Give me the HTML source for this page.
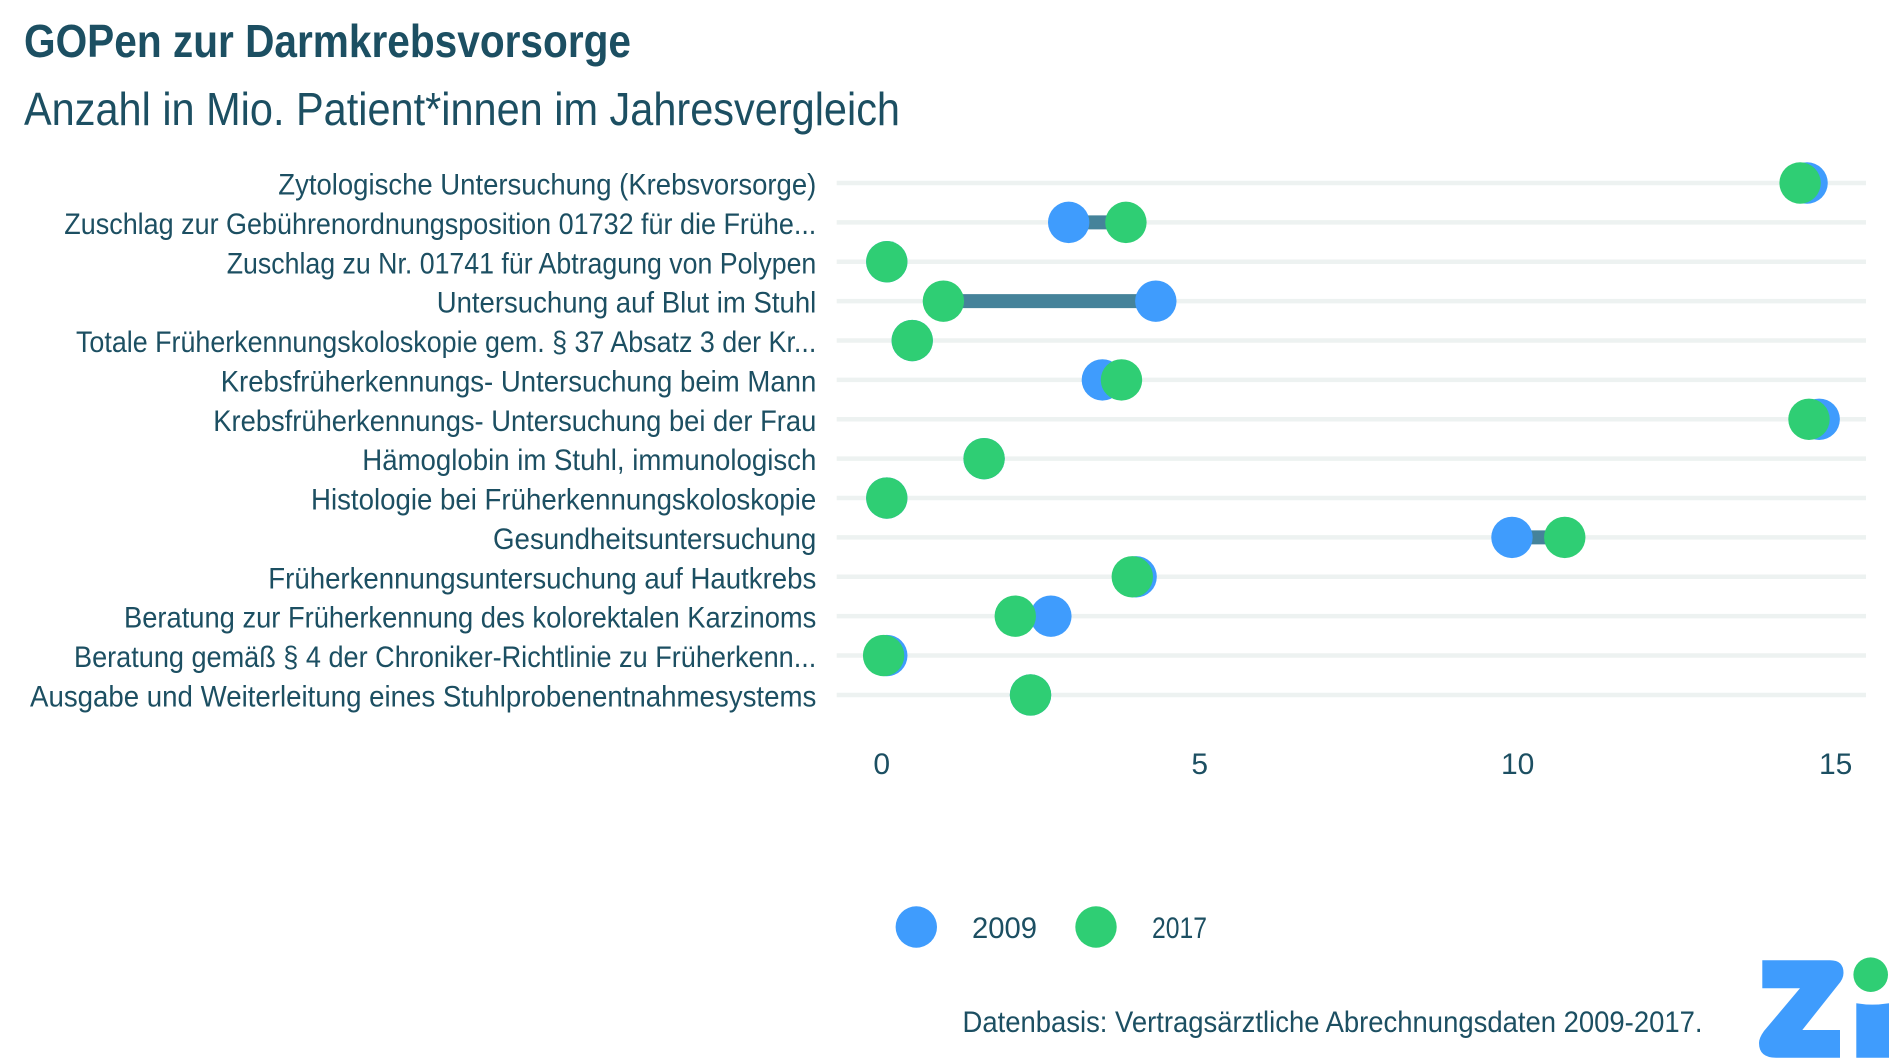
<!DOCTYPE html>
<html lang="de">
<head>
<meta charset="utf-8">
<title>GOPen zur Darmkrebsvorsorge</title>
<style>
html,body{margin:0;padding:0;background:#fff;}
body{width:1889px;height:1062px;overflow:hidden;}
svg{display:block;}
text{font-family:"Liberation Sans",sans-serif;fill:#1c4f62;}
#ylabels text{font-size:29.5px;text-anchor:end;}
</style>
</head>
<body>
<svg id="chart" width="1889" height="1062" viewBox="0 0 1889 1062" xmlns="http://www.w3.org/2000/svg">
  <text x="24" y="57" font-size="46" font-weight="bold" textLength="607" lengthAdjust="spacingAndGlyphs">GOPen zur Darmkrebsvorsorge</text>
  <text x="24" y="125" font-size="46" textLength="876" lengthAdjust="spacingAndGlyphs">Anzahl in Mio. Patient*innen im Jahresvergleich</text>
  <g id="gridlines"></g>
  <g id="connectors"></g>
  <g id="points2009"></g>
  <g id="points2017"></g>
  <g id="ylabels">
    <text x="816.3" y="194.5" textLength="538" lengthAdjust="spacingAndGlyphs">Zytologische Untersuchung (Krebsvorsorge)</text>
    <text x="816.3" y="233.88" textLength="752" lengthAdjust="spacingAndGlyphs">Zuschlag zur Gebührenordnungsposition 01732 für die Frühe...</text>
    <text x="816.3" y="273.26" textLength="589.6" lengthAdjust="spacingAndGlyphs">Zuschlag zu Nr. 01741 für Abtragung von Polypen</text>
    <text x="816.3" y="312.64" textLength="379.6" lengthAdjust="spacingAndGlyphs">Untersuchung auf Blut im Stuhl</text>
    <text x="816.3" y="352.02" textLength="740.3" lengthAdjust="spacingAndGlyphs">Totale Früherkennungskoloskopie gem. § 37 Absatz 3 der Kr...</text>
    <text x="816.3" y="391.4" textLength="595.6" lengthAdjust="spacingAndGlyphs">Krebsfrüherkennungs- Untersuchung beim Mann</text>
    <text x="816.3" y="430.78" textLength="603" lengthAdjust="spacingAndGlyphs">Krebsfrüherkennungs- Untersuchung bei der Frau</text>
    <text x="816.3" y="470.16" textLength="454" lengthAdjust="spacingAndGlyphs">Hämoglobin im Stuhl, immunologisch</text>
    <text x="816.3" y="509.54" textLength="505.3" lengthAdjust="spacingAndGlyphs">Histologie bei Früherkennungskoloskopie</text>
    <text x="816.3" y="548.92" textLength="323.3" lengthAdjust="spacingAndGlyphs">Gesundheitsuntersuchung</text>
    <text x="816.3" y="588.3" textLength="548" lengthAdjust="spacingAndGlyphs">Früherkennungsuntersuchung auf Hautkrebs</text>
    <text x="816.3" y="627.68" textLength="692.3" lengthAdjust="spacingAndGlyphs">Beratung zur Früherkennung des kolorektalen Karzinoms</text>
    <text x="816.3" y="667.06" textLength="742.3" lengthAdjust="spacingAndGlyphs">Beratung gemäß § 4 der Chroniker-Richtlinie zu Früherkenn...</text>
    <text x="816.3" y="706.44" textLength="786.3" lengthAdjust="spacingAndGlyphs">Ausgabe und Weiterleitung eines Stuhlprobenentnahmesystems</text>
  </g>
  <g id="xticks"></g>
  <g>
    <circle cx="916.3" cy="927" r="20.7" fill="#3f9cfd"/>
    <text x="972" y="938" font-size="30" textLength="65" lengthAdjust="spacingAndGlyphs">2009</text>
    <circle cx="1096" cy="927" r="20.7" fill="#2fce74"/>
    <text x="1152" y="938" font-size="30" textLength="55" lengthAdjust="spacingAndGlyphs">2017</text>
  </g>
  <text x="962.5" y="1032" font-size="30" textLength="740" lengthAdjust="spacingAndGlyphs">Datenbasis: Vertragsärztliche Abrechnungsdaten 2009-2017.</text>
  <g>
    <path fill="#3f9cfd" d="M1762.3 960.3H1830Q1843.5 960.3 1843.5 973Q1843.5 979 1838 985L1802.3 1030H1840V1057.7H1776Q1759 1057.7 1759 1043Q1759 1038 1764 1031L1800 988.3H1762.3Z"/>
    <path fill="#3f9cfd" d="M1856.3 1003.3Q1872 1006 1889 1003.3V1057.7H1856.3Z"/>
    <circle cx="1870.7" cy="974.7" r="17.3" fill="#2fce74"/>
  </g>
</svg>
<script>
const categories = [
  "Zytologische Untersuchung (Krebsvorsorge)",
  "Zuschlag zur Gebührenordnungsposition 01732 für die Frühe...",
  "Zuschlag zu Nr. 01741 für Abtragung von Polypen",
  "Untersuchung auf Blut im Stuhl",
  "Totale Früherkennungskoloskopie gem. § 37 Absatz 3 der Kr...",
  "Krebsfrüherkennungs- Untersuchung beim Mann",
  "Krebsfrüherkennungs- Untersuchung bei der Frau",
  "Hämoglobin im Stuhl, immunologisch",
  "Histologie bei Früherkennungskoloskopie",
  "Gesundheitsuntersuchung",
  "Früherkennungsuntersuchung auf Hautkrebs",
  "Beratung zur Früherkennung des kolorektalen Karzinoms",
  "Beratung gemäß § 4 der Chroniker-Richtlinie zu Früherkenn...",
  "Ausgabe und Weiterleitung eines Stuhlprobenentnahmesystems"
];
const values2009 = [14.55, 2.94, 0.08, 4.31, 0.48, 3.47, 14.74, 1.61, 0.08, 9.91, 4.0, 2.66, 0.08, 2.34];
const values2017 = [14.44, 3.84, 0.08, 0.97, 0.48, 3.77, 14.58, 1.61, 0.08, 10.74, 3.94, 2.1, 0.03, 2.34];
const xTickValues = [0, 5, 10, 15];

const NS = "http://www.w3.org/2000/svg";
const X_ZERO = 881.7, X_UNIT = 63.6, Y_FIRST = 183, Y_STEP = 39.38;
const GRID_LEFT = 836.7, GRID_RIGHT = 1866, RADIUS = 20.7;
const xScale = v => X_ZERO + X_UNIT * v;
const yScale = i => Y_FIRST + Y_STEP * i;
function make(tag, attrs, parent) {
  const el = document.createElementNS(NS, tag);
  for (const k in attrs) el.setAttribute(k, attrs[k]);
  document.getElementById(parent).appendChild(el);
  return el;
}
categories.forEach((name, i) => {
  const y = yScale(i);
  const grid = make("line", {x1: GRID_LEFT, x2: GRID_RIGHT, y1: y, y2: y, stroke: "#edf2f1", "stroke-width": 4.5}, "gridlines");
  
  

  const link = make("line", {x1: xScale(values2009[i]), x2: xScale(values2017[i]), y1: y, y2: y, stroke: "#45839a", "stroke-width": 14}, "connectors");
  
  

  const blue = make("circle", {cx: xScale(values2009[i]), cy: y, r: RADIUS, fill: "#3f9cfd"}, "points2009");
  
  

  const green = make("circle", {cx: xScale(values2017[i]), cy: y, r: RADIUS, fill: "#2fce74"}, "points2017");
  
  
});
xTickValues.forEach(t => {
  const tick = make("text", {x: xScale(t), y: 774, "text-anchor": "middle", "font-size": 30}, "xticks");
  tick.textContent = String(t);
  
  
});
</script>
</body>
</html>
